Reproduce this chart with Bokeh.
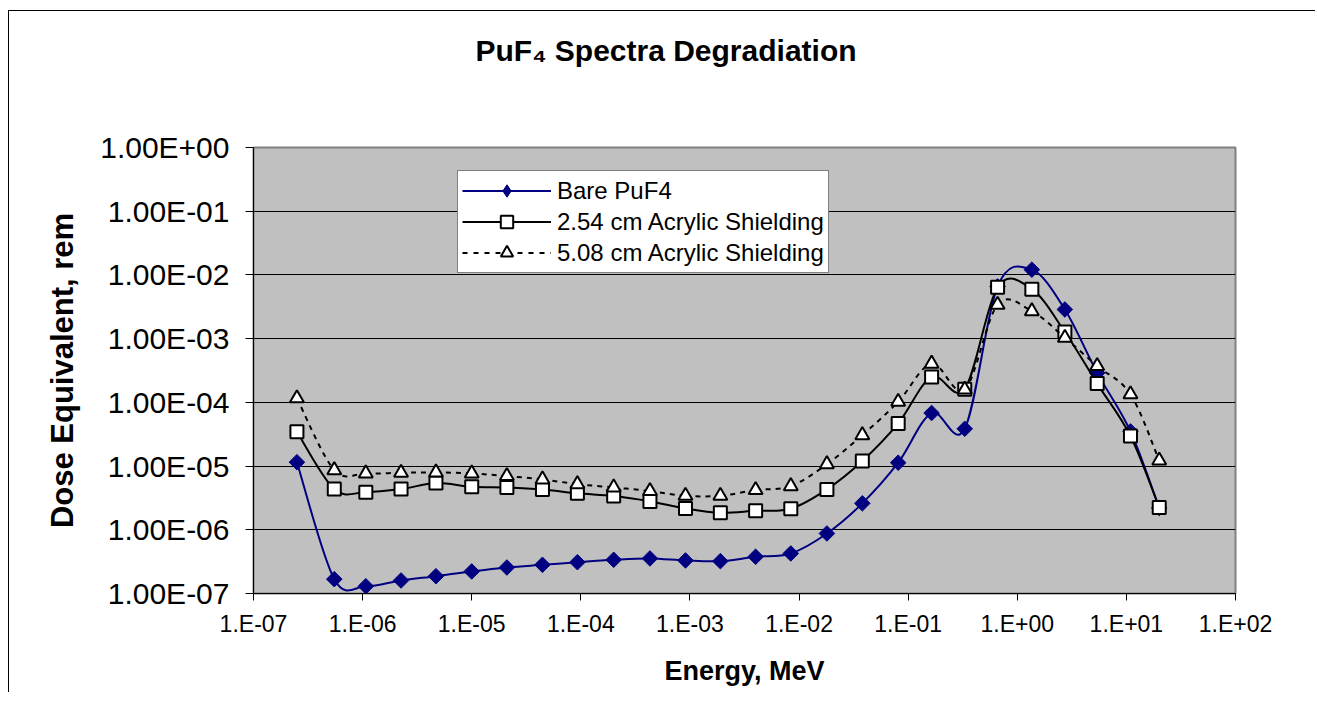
import numpy as np
from bokeh.plotting import figure
from bokeh.models import (Range1d, FixedTicker, CustomJSTickFormatter, Legend,
                          LegendItem, ColumnDataSource, Title)
from bokeh.embed import file_html
from bokeh.resources import INLINE

# ---------------- data ----------------
energy_mev = [2.5e-7, 5.5e-7, 1.07e-6, 2.25e-6, 4.7e-6, 1.0e-5, 2.1e-5, 4.45e-5,
              9.3e-5, 2.0e-4, 4.3e-4, 9.1e-4, 1.9e-3, 4.0e-3, 8.4e-3, 1.8e-2,
              3.8e-2, 8.1e-2, 0.164, 0.33, 0.66, 1.36, 2.73, 5.4, 10.9, 20.0]

bare_puf4 = [1.15e-5, 1.68e-7, 1.30e-7, 1.60e-7, 1.87e-7, 2.22e-7, 2.56e-7, 2.82e-7,
             3.10e-7, 3.38e-7, 3.55e-7, 3.30e-7, 3.22e-7, 3.77e-7, 4.25e-7, 8.75e-7,
             2.6e-6, 1.13e-5, 6.8e-5, 3.85e-5, 6.6e-3, 1.21e-2, 2.87e-3, 2.9e-4,
             3.5e-5, 2.2e-6]

acrylic_254 = [3.46e-5, 4.35e-6, 3.9e-6, 4.35e-6, 5.4e-6, 4.73e-6, 4.62e-6, 4.3e-6,
               3.73e-6, 3.38e-6, 2.79e-6, 2.16e-6, 1.85e-6, 1.99e-6, 2.14e-6, 4.3e-6,
               1.2e-5, 4.67e-5, 2.5e-4, 1.61e-4, 6.4e-3, 5.97e-3, 1.27e-3, 1.97e-4,
               2.96e-5, 2.23e-6]

acrylic_508 = [1.16e-4, 8.65e-6, 7.67e-6, 7.85e-6, 7.94e-6, 7.67e-6, 6.97e-6, 6.18e-6,
               5.2e-6, 4.62e-6, 4.05e-6, 3.42e-6, 3.42e-6, 4.2e-6, 4.85e-6, 1.07e-5,
               3.06e-5, 1.02e-4, 4.05e-4, 1.59e-4, 3.4e-3, 2.7e-3, 1.03e-3, 3.72e-4,
               1.34e-4, 1.22e-5]

series_names = ["Bare PuF4", "2.54 cm Acrylic Shielding", "5.08 cm Acrylic Shielding"]

x_ticks = [1e-7, 1e-6, 1e-5, 1e-4, 1e-3, 1e-2, 1e-1, 1e0, 1e1, 1e2]
x_tick_labels = ["1.E-07", "1.E-06", "1.E-05", "1.E-04", "1.E-03", "1.E-02",
                 "1.E-01", "1.E+00", "1.E+01", "1.E+02"]
y_ticks = [1e-7, 1e-6, 1e-5, 1e-4, 1e-3, 1e-2, 1e-1, 1e0]
y_tick_labels = ["1.00E-07", "1.00E-06", "1.00E-05", "1.00E-04", "1.00E-03",
                 "1.00E-02", "1.00E-01", "1.00E+00"]

title_text = "PuF\u2084 Spectra Degradiation"
x_title = "Energy, MeV"
y_title = "Dose Equivalent, rem"

FONT = "Liberation Sans"
NAN = float("nan")


def smooth_source(xs, ys):
    """Catmull-Rom style Bezier control points (Excel 'smoothed line'), in log space."""
    lx = np.log10(np.asarray(xs, dtype=float))
    ly = np.log10(np.asarray(ys, dtype=float))
    px = np.concatenate([[lx[0]], lx, [lx[-1]]])
    py = np.concatenate([[ly[0]], ly, [ly[-1]]])
    n = len(lx)
    i = np.arange(n - 1)
    p0x, p1x, p2x, p3x = px[i], px[i + 1], px[i + 2], px[i + 3]
    p0y, p1y, p2y, p3y = py[i], py[i + 1], py[i + 2], py[i + 3]
    c1x = p1x + (p2x - p0x) / 6.0
    c1y = p1y + (p2y - p0y) / 6.0
    c2x = p2x - (p3x - p1x) / 6.0
    c2y = p2y - (p3y - p1y) / 6.0
    return ColumnDataSource(dict(x0=10 ** p1x, y0=10 ** p1y, x1=10 ** p2x, y1=10 ** p2y,
                                 cx0=10 ** c1x, cy0=10 ** c1y, cx1=10 ** c2x, cy1=10 ** c2y))


p = figure(width=1307, height=682, x_axis_type="log", y_axis_type="log",
           x_range=Range1d(1e-7, 1e2), y_range=Range1d(1e-7, 1e0),
           output_backend="svg", toolbar_location=None,
           min_border_left=244, min_border_right=81, min_border_top=136,
           min_border_bottom=100)
p.styles = {"border-left": "1px solid black", "border-top": "1px solid black",
            "margin-top": "10px", "margin-left": "8px"}

p.background_fill_color = "#C0C0C0"
p.border_fill_color = "white"
p.outline_line_color = "#808080"
p.outline_line_width = 2

# spacer between the frame and the chart title (keeps the title high above the plot)
p.add_layout(Title(text=" ", text_font_size="1px", standoff=78), "above")

# title (outermost in the "above" panel)
p.title.text = title_text
p.title.align = "left"
p.title.offset = 222
p.title.standoff = 0
p.title.text_font = FONT
p.title.text_font_size = "30px"
p.title.text_font_style = "bold"
p.title.text_color = "black"

# grid
p.xgrid.visible = False
p.ygrid.ticker = FixedTicker(ticks=y_ticks)
p.ygrid.grid_line_color = "black"
p.ygrid.grid_line_width = 1

fmt_code = """
const lt = Math.log10(tick);
let best = 0, bd = Infinity;
for (let i = 0; i < tvals.length; i++) {
  const d = Math.abs(Math.log10(tvals[i]) - lt);
  if (d < bd) { bd = d; best = i; }
}
return tlabels[best];
"""

xa = p.xaxis[0]
xa.ticker = FixedTicker(ticks=x_ticks)
xa.formatter = CustomJSTickFormatter(args=dict(tvals=x_ticks, tlabels=x_tick_labels), code=fmt_code)
xa.major_tick_out = 7
xa.major_tick_in = 0
xa.minor_tick_line_color = None
xa.axis_line_color = "black"
xa.major_tick_line_color = "black"
xa.major_label_text_font = FONT
xa.major_label_text_font_size = "23px"
xa.major_label_text_color = "black"
xa.major_label_standoff = 10
xa.axis_label = x_title
xa.axis_label_text_font = FONT
xa.axis_label_text_font_size = "27px"
xa.axis_label_text_font_style = "bold"
xa.axis_label_text_color = "black"
xa.axis_label_standoff = 16

ya = p.yaxis[0]
ya.ticker = FixedTicker(ticks=y_ticks)
ya.formatter = CustomJSTickFormatter(args=dict(tvals=y_ticks, tlabels=y_tick_labels), code=fmt_code)
ya.major_tick_out = 8
ya.major_tick_in = 0
ya.minor_tick_line_color = None
ya.axis_line_color = "black"
ya.major_tick_line_color = "black"
ya.major_label_text_font = FONT
ya.major_label_text_font_size = "30px"
ya.major_label_text_color = "black"
ya.major_label_standoff = 16
ya.axis_label = y_title
ya.axis_label_text_font = FONT
ya.axis_label_text_font_size = "31px"
ya.axis_label_text_font_style = "bold"
ya.axis_label_text_color = "black"
ya.axis_label_standoff = 17

# ---------------- series ----------------
NAVY = "#000080"

# Bare PuF4
p.bezier(x0="x0", y0="y0", x1="x1", y1="y1", cx0="cx0", cy0="cy0", cx1="cx1", cy1="cy1",
         source=smooth_source(energy_mev, bare_puf4), line_color=NAVY, line_width=2)
p.scatter(energy_mev, bare_puf4, marker="square", angle=np.pi / 4, size=11,
          fill_color=NAVY, line_color=NAVY, line_width=1)

# 2.54 cm
p.bezier(x0="x0", y0="y0", x1="x1", y1="y1", cx0="cx0", cy0="cy0", cx1="cx1", cy1="cy1",
         source=smooth_source(energy_mev, acrylic_254), line_color="black", line_width=2)
p.scatter(energy_mev, acrylic_254, marker="square", size=13,
          fill_color="white", line_color="black", line_width=2)

# 5.08 cm
p.bezier(x0="x0", y0="y0", x1="x1", y1="y1", cx0="cx0", cy0="cy0", cx1="cx1", cy1="cy1",
         source=smooth_source(energy_mev, acrylic_508), line_color="black", line_width=2,
         line_dash="5 5")
p.scatter(energy_mev, acrylic_508, marker="triangle", size=14,
          fill_color="white", line_color="black", line_width=2)

# legend-only glyphs (a single NaN point: nothing is drawn in the plot itself)
lg_bare_l = p.line(x=[NAN], y=[NAN], line_color=NAVY, line_width=2)
lg_bare_m = p.scatter(x=[NAN], y=[NAN], marker="diamond", size=15,
                      fill_color=NAVY, line_color=NAVY, line_width=1)
lg_254_l = p.line(x=[NAN], y=[NAN], line_color="black", line_width=2)
lg_254_m = p.scatter(x=[NAN], y=[NAN], marker="square", size=13,
                     fill_color="white", line_color="black", line_width=2)
lg_508_l = p.line(x=[NAN], y=[NAN], line_color="black", line_width=2, line_dash="5 6")
lg_508_m = p.scatter(x=[NAN], y=[NAN], marker="triangle", size=14,
                     fill_color="white", line_color="black", line_width=2)

legend = Legend(items=[
    LegendItem(label=series_names[0], renderers=[lg_bare_l, lg_bare_m]),
    LegendItem(label=series_names[1], renderers=[lg_254_l, lg_254_m]),
    LegendItem(label=series_names[2], renderers=[lg_508_l, lg_508_m]),
], location=(204, 320), orientation="vertical", margin=0, padding=4, spacing=0,
    glyph_width=89, glyph_height=31, label_height=31, label_standoff=6,
    label_text_font=FONT, label_text_font_size="24px", label_text_color="black",
    border_line_color="black", border_line_width=1,
    background_fill_color="white", background_fill_alpha=1.0)
p.add_layout(legend)

open("out.html", "w").write(file_html(p, INLINE))
